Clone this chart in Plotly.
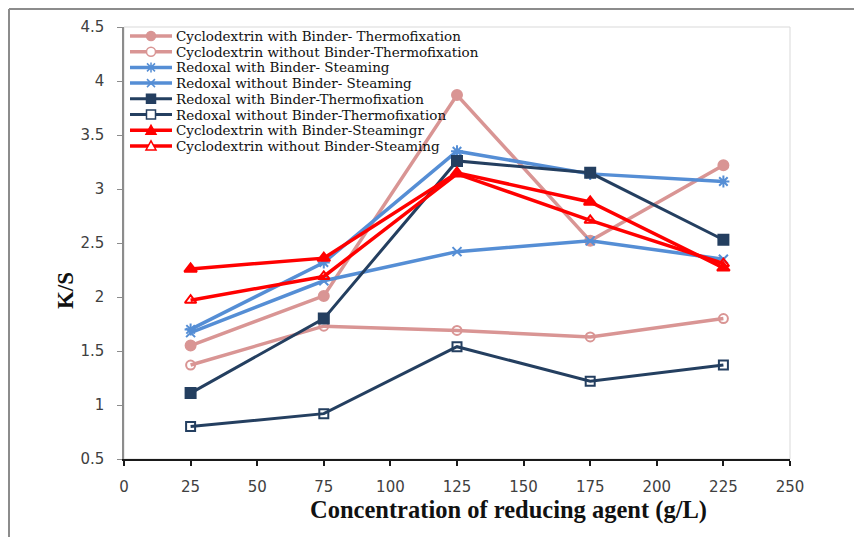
import plotly.graph_objects as go

conc = [25, 75, 125, 175, 225]

names = [
    "Cyclodextrin with Binder- Thermofixation",
    "Cyclodextrin without Binder-Thermofixation",
    "Redoxal with Binder- Steaming",
    "Redoxal without Binder- Steaming",
    "Redoxal with Binder-Thermofixation",
    "Redoxal without Binder-Thermofixation",
    "Cyclodextrin with Binder-Steamingr",
    "Cyclodextrin without Binder-Steaming",
]

cd_wb_thermo = [1.55, 2.01, 3.87, 2.52, 3.22]
cd_wob_thermo = [1.37, 1.73, 1.69, 1.63, 1.80]
rx_wb_steam = [1.70, 2.32, 3.35, 3.14, 3.07]
rx_wob_steam = [1.67, 2.15, 2.42, 2.52, 2.35]
rx_wb_thermo = [1.11, 1.80, 3.26, 3.15, 2.53]
rx_wob_thermo = [0.80, 0.92, 1.54, 1.22, 1.37]
cd_wb_steam = [2.26, 2.36, 3.15, 2.88, 2.27]
cd_wob_steam = [1.97, 2.19, 3.14, 2.71, 2.31]

series = [cd_wb_thermo, cd_wob_thermo, rx_wb_steam, rx_wob_steam,
          rx_wb_thermo, rx_wob_thermo, cd_wb_steam, cd_wob_steam]

x_ticks = [0, 25, 50, 75, 100, 125, 150, 175, 200, 225, 250]
y_ticks = [0.5, 1, 1.5, 2, 2.5, 3, 3.5, 4, 4.5]
y_ticktext = ["0.5", "1", "1.5", "2", "2.5", "3", "3.5", "4", "4.5"]

PINK = "#D99594"
BLUE = "#558ED5"
NAVY = "#243F60"
RED = "#FF0000"

# (colour, plotly symbol, marker size, line width, legend glyph kind, filled)
styles = [
    (PINK, "circle", 10, 3.5, "circle", True),
    (PINK, "circle-open", 9, 3.5, "circle", False),
    (BLUE, "asterisk-open", 10, 3.5, "asterisk", False),
    (BLUE, "x-thin-open", 9, 3.5, "x", False),
    (NAVY, "square", 10, 3, "square", True),
    (NAVY, "square-open", 9, 3, "square", False),
    (RED, "triangle-up", 11, 3.5, "triangle", True),
    (RED, "triangle-up-open", 10, 3.5, "triangle", False),
]

# page has an 8px body margin; geometry below is in screen pixels
OFF = 8
SCREEN_W, SCREEN_H = 862, 537
L, R, T, B = 124, 790, 27, 459
W, H = R - L, B - T


def px(x):
    return (x - L) / W


def py(y):
    return (B - y) / H


fig = go.Figure()
for name, ys, (col, sym, sz, lw, _, _) in zip(names, series, styles):
    fig.add_trace(go.Scatter(
        x=conc, y=ys, name=name, mode="lines+markers", showlegend=False,
        line=dict(color=col, width=lw),
        marker=dict(symbol=sym, size=sz, color=col,
                    line=dict(color=col, width=2)),
    ))

shapes = []
annotations = []

# plot-area border and outer frame
shapes.append(dict(type="rect", xref="paper", yref="paper", x0=0, x1=1, y0=0, y1=1,
                   line=dict(color="#D9D9D9", width=1), layer="below"))
shapes.append(dict(type="line", xref="paper", yref="paper",
                   x0=px(9), x1=px(880), y0=py(9), y1=py(9),
                   line=dict(color="#8C8C8C", width=2)))
shapes.append(dict(type="line", xref="paper", yref="paper",
                   x0=px(9), x1=px(9), y0=py(9), y1=py(560),
                   line=dict(color="#8C8C8C", width=2)))

# hand-drawn legend (compact row spacing like the original)
row0, row_gap = 36, 15.7
for i, (name, (col, sym, sz, lw, kind, filled)) in enumerate(zip(names, styles)):
    yy = row0 + i * row_gap
    shapes.append(dict(type="line", xref="paper", yref="paper",
                       x0=px(130), x1=px(172), y0=py(yy), y1=py(yy),
                       line=dict(color=col, width=lw)))
    common = dict(xref="paper", yref="paper", xsizemode="pixel", ysizemode="pixel",
                  xanchor=px(151), yanchor=py(yy))
    fill = col if filled else "white"
    if kind == "circle":
        shapes.append(dict(type="circle", x0=-4.5, x1=4.5, y0=-4.5, y1=4.5,
                           fillcolor=fill, line=dict(color=col, width=1.5), **common))
    elif kind == "square":
        shapes.append(dict(type="rect", x0=-4.5, x1=4.5, y0=-4.5, y1=4.5,
                           fillcolor=fill, line=dict(color=col, width=1.5), **common))
    elif kind == "triangle":
        shapes.append(dict(type="path", path="M -5,-4 L 5,-4 L 0,5 Z",
                           fillcolor=fill, line=dict(color=col, width=1.5), **common))
    elif kind == "asterisk":
        shapes.append(dict(type="path", path="M -4,-4 L 4,4 M -4,4 L 4,-4 M 0,-5 L 0,5",
                           line=dict(color=col, width=1.5), **common))
    elif kind == "x":
        shapes.append(dict(type="path", path="M -4,-4 L 4,4 M -4,4 L 4,-4",
                           line=dict(color=col, width=1.5), **common))
    annotations.append(dict(xref="paper", yref="paper", x=px(174), y=py(yy),
                            xanchor="left", yanchor="middle", showarrow=False,
                            text=name, font=dict(family="DejaVu Serif", size=13.5, color="#111111")))

# axis titles
annotations.append(dict(xref="paper", yref="paper", x=px(508), y=py(510),
                        xanchor="center", yanchor="middle", showarrow=False,
                        text="<b>Concentration of reducing agent (g/L)</b>",
                        font=dict(family="Liberation Serif", size=24.5, color="#111111")))
annotations.append(dict(xref="paper", yref="paper", x=px(65), y=py(291),
                        xanchor="center", yanchor="middle", showarrow=False, textangle=-90,
                        text="<b>K/S</b>",
                        font=dict(family="Liberation Serif", size=23, color="#111111")))

fig.update_layout(
    width=SCREEN_W - OFF, height=SCREEN_H - OFF,
    margin=dict(l=L - OFF, r=SCREEN_W - R, t=T - OFF, b=SCREEN_H - B),
    paper_bgcolor="white", plot_bgcolor="white",
    showlegend=False,
    shapes=shapes, annotations=annotations,
    xaxis=dict(range=[0, 250], tickvals=x_ticks, automargin=False,
               showgrid=False, zeroline=False,
               showline=True, linecolor="#1a1a1a", linewidth=2,
               ticks="outside", ticklen=5, tickcolor="#1a1a1a", tickwidth=2,
               ticklabelstandoff=8,
               tickfont=dict(family="DejaVu Sans", size=15, color="#404040")),
    yaxis=dict(range=[0.5, 4.5], tickvals=y_ticks, ticktext=y_ticktext, automargin=False,
               showgrid=False, zeroline=False,
               showline=True, linecolor="#8C8C8C", linewidth=1.5,
               ticks="outside", ticklen=5, tickcolor="#8C8C8C",
               ticklabelstandoff=10,
               tickfont=dict(family="DejaVu Sans", size=15, color="#404040")),
)

fig.write_html("out.html")
